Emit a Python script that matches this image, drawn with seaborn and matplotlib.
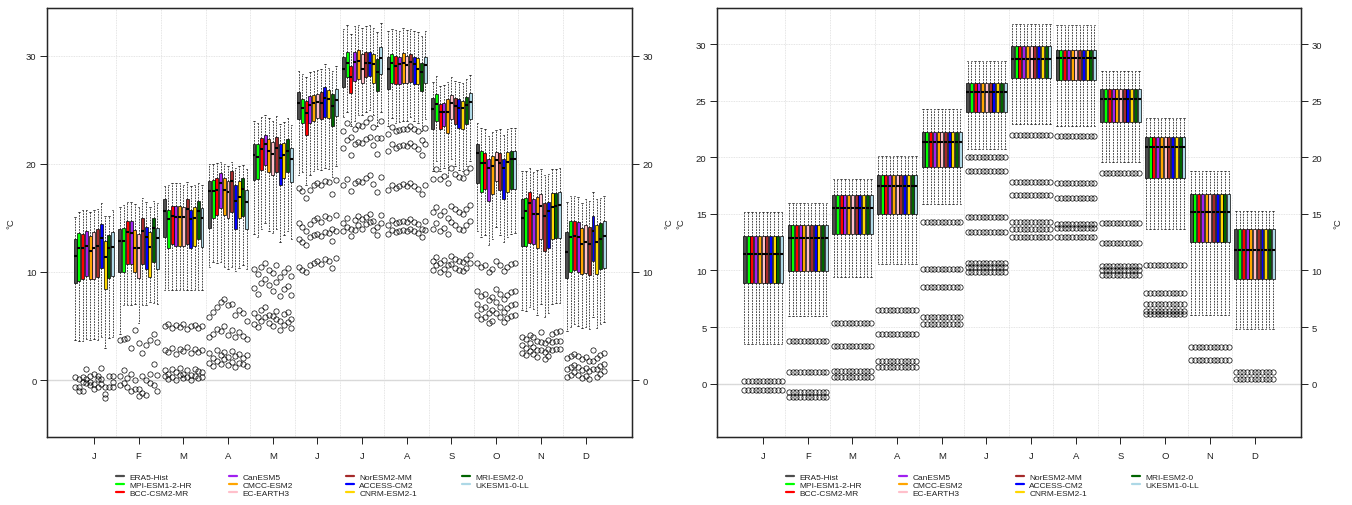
import numpy as np
import pandas as pd
import matplotlib
matplotlib.use("Agg")
import matplotlib.pyplot as plt
import seaborn as sns
from matplotlib.lines import Line2D

MONTHS = ["Jan", "Feb", "Mar", "Apr", "May", "Jun", "Jul", "Aug", "Sep", "Oct", "Nov", "Dec"]
MONTH_LABELS = ["J", "F", "M", "A", "M", "J", "J", "A", "S", "O", "N", "D"]
MODELS = ["ERA5-Hist", "MPI-ESM1-2-HR", "BCC-CSM2-MR", "CanESM5", "CMCC-ESM2", "EC-EARTH3",
          "NorESM2-MM", "ACCESS-CM2", "CNRM-ESM2-1", "MRI-ESM2-0", "UKESM1-0-LL"]
COLORS = ["#4D4D4D", "#00FF00", "#FF0000", "#A020F0", "#FFA500", "#FFC0CB",
          "#A52A2A", "#0000FF", "#FFD700", "#006400", "#ADD8E6"]

# ---------------- left panel (raw models) : rows = months, cols = models ----------------
L_Q3 = [
    [13.0, 13.6, 13.5, 13.8, 13.35, 13.65, 13.95, 14.45, 12.9, 13.4, 13.7],
    [13.95, 14.1, 14.7, 14.7, 13.9, 13.5, 14.95, 14.2, 13.65, 15.0, 14.05],
    [16.7, 15.75, 16.05, 16.05, 16.05, 16.0, 16.75, 15.75, 16.0, 16.6, 15.9],
    [18.4, 18.5, 18.65, 19.15, 18.65, 18.4, 19.3, 18.0, 18.4, 18.65, 17.6],
    [21.8, 21.8, 22.4, 22.7, 22.3, 22.0, 22.5, 21.8, 21.9, 22.3, 21.5],
    [26.6, 26.0, 25.8, 26.3, 26.4, 26.5, 26.6, 27.1, 26.8, 26.5, 26.9],
    [29.85, 30.35, 29.0, 30.35, 30.5, 30.15, 30.35, 30.35, 30.15, 29.7, 30.8],
    [29.85, 30.15, 30.0, 29.85, 30.25, 30.0, 30.15, 29.85, 29.75, 29.3, 29.85],
    [26.05, 26.45, 25.5, 25.6, 25.95, 26.4, 26.05, 25.95, 25.8, 26.2, 26.55],
    [21.8, 21.2, 21.0, 20.4, 20.75, 21.1, 21.0, 20.45, 21.05, 21.2, 21.2],
    [16.7, 16.8, 17.35, 16.7, 16.9, 17.2, 16.4, 16.5, 17.3, 17.3, 17.4],
    [13.7, 14.7, 14.7, 14.6, 14.05, 14.35, 14.2, 15.2, 14.35, 14.5, 14.7],
]
L_MED = [
    [11.45, 12.2, 12.25, 12.4, 11.95, 12.2, 12.4, 13.1, 11.35, 12.2, 12.35],
    [12.9, 12.9, 13.65, 13.6, 12.25, 12.2, 13.8, 13.2, 12.35, 14.05, 13.1],
    [15.65, 14.9, 15.2, 15.1, 15.1, 15.1, 15.8, 14.9, 15.0, 15.65, 15.0],
    [17.45, 17.45, 17.6, 18.2, 17.6, 17.4, 18.4, 16.6, 16.95, 17.7, 16.5],
    [20.8, 20.6, 21.4, 21.8, 21.2, 20.9, 21.5, 20.5, 20.8, 21.2, 20.4],
    [25.6, 25.2, 24.7, 25.4, 25.6, 25.7, 25.6, 26.1, 26.0, 25.3, 25.9],
    [28.75, 29.3, 28.0, 29.4, 29.5, 28.8, 29.3, 29.3, 29.2, 28.45, 29.75],
    [28.8, 29.3, 29.0, 29.2, 29.3, 29.1, 29.4, 29.2, 28.75, 28.45, 29.1],
    [25.1, 25.5, 24.75, 24.8, 24.75, 25.6, 25.3, 25.2, 25.15, 25.4, 25.7],
    [21.0, 20.1, 20.1, 19.6, 19.8, 20.35, 20.1, 19.6, 20.2, 20.4, 20.4],
    [15.0, 15.6, 16.4, 15.4, 15.4, 16.1, 15.2, 15.65, 16.0, 16.05, 16.2],
    [11.85, 13.25, 13.35, 13.2, 12.6, 12.75, 12.6, 13.8, 12.75, 13.0, 13.35],
]
L_Q1 = [
    [8.95, 9.2, 9.35, 9.65, 9.35, 9.35, 9.55, 10.35, 8.4, 9.4, 9.65],
    [9.95, 9.95, 10.7, 10.7, 10.0, 9.4, 10.7, 10.3, 9.5, 10.9, 10.25],
    [13.2, 12.25, 12.6, 12.4, 12.4, 12.4, 12.6, 12.25, 12.4, 13.0, 12.3],
    [14.1, 15.0, 15.25, 15.9, 15.25, 15.0, 15.5, 14.0, 15.0, 15.2, 14.0],
    [18.5, 18.6, 19.4, 19.9, 19.2, 19.0, 19.2, 18.0, 18.7, 19.2, 18.3],
    [24.1, 23.8, 22.7, 23.8, 24.0, 24.2, 24.1, 24.3, 24.2, 23.5, 24.4],
    [27.1, 28.0, 26.55, 27.7, 27.8, 27.5, 28.0, 28.15, 27.45, 26.75, 28.3],
    [26.9, 27.5, 27.4, 27.4, 27.5, 27.45, 27.6, 27.4, 27.4, 26.75, 27.5],
    [23.2, 24.0, 23.2, 23.5, 22.85, 24.1, 23.7, 23.3, 23.2, 23.7, 24.1],
    [18.2, 17.4, 17.65, 16.6, 17.2, 18.4, 17.6, 16.7, 17.35, 17.65, 17.7],
    [12.4, 12.4, 12.7, 12.6, 12.2, 13.0, 11.95, 12.25, 13.0, 13.1, 13.1],
    [9.4, 10.0, 10.2, 10.0, 9.85, 9.9, 9.75, 11.0, 9.8, 10.25, 10.4],
]
L_HI = [
    [15.05, 15.5, 15.7, 15.75, 15.5, 15.7, 15.8, 16.4, 15.2, 15.2, 15.7],
    [16.0, 16.2, 16.5, 16.5, 16.3, 16.0, 16.8, 16.5, 16.0, 16.6, 16.4],
    [17.9, 18.0, 18.2, 18.2, 18.2, 18.0, 18.3, 17.9, 18.0, 18.2, 18.0],
    [20.0, 20.0, 20.1, 20.2, 20.0, 19.8, 20.2, 19.6, 19.8, 19.9, 19.5],
    [24.0, 23.8, 24.3, 24.5, 24.2, 24.0, 24.4, 23.7, 23.9, 24.2, 23.6],
    [28.6, 28.3, 28.0, 28.5, 28.6, 28.7, 28.8, 29.2, 28.9, 28.6, 29.0],
    [32.5, 32.8, 32.0, 32.7, 32.8, 32.6, 32.7, 32.8, 32.6, 32.2, 33.0],
    [32.3, 32.5, 32.4, 32.3, 32.6, 32.4, 32.5, 32.3, 32.2, 31.8, 32.3],
    [27.6, 28.1, 27.2, 27.3, 27.6, 28.0, 27.7, 27.6, 27.5, 27.8, 28.2],
    [23.8, 23.3, 23.2, 22.6, 22.9, 23.1, 23.2, 22.7, 23.2, 23.3, 23.3],
    [19.3, 19.3, 19.6, 19.2, 19.4, 19.5, 19.0, 19.1, 19.5, 19.5, 19.6],
    [16.5, 17.0, 17.0, 16.9, 16.4, 16.7, 16.6, 17.4, 16.7, 16.8, 17.0],
]
L_LO = [
    [3.7, 3.6, 3.6, 3.8, 3.7, 3.8, 3.7, 4.0, 3.0, 3.85, 4.0],
    [4.3, 6.9, 6.9, 6.9, 7.0, 5.3, 6.9, 6.9, 7.2, 7.1, 7.0],
    [8.3, 8.3, 8.3, 8.3, 8.3, 8.3, 8.3, 8.3, 8.3, 8.3, 8.3],
    [10.5, 10.9, 10.8, 10.9, 10.5, 10.3, 10.5, 10.1, 10.4, 10.6, 10.3],
    [13.5, 13.2, 14.0, 14.5, 13.8, 13.6, 14.0, 12.8, 13.4, 13.8, 13.0],
    [19.0, 19.2, 18.0, 19.0, 19.3, 19.5, 19.4, 19.6, 19.5, 18.8, 19.8],
    [24.3, 24.8, 23.5, 24.0, 24.5, 24.5, 24.8, 25.0, 24.5, 23.5, 24.8],
    [23.5, 24.2, 23.8, 23.9, 24.0, 24.0, 24.3, 24.0, 23.8, 23.0, 24.1],
    [19.3, 20.3, 19.3, 19.6, 18.8, 20.4, 19.8, 19.4, 19.3, 19.8, 20.3],
    [13.8, 13.2, 13.4, 12.5, 13.0, 14.2, 13.4, 12.8, 13.2, 13.5, 13.6],
    [6.5, 6.4, 6.8, 6.6, 6.0, 7.0, 5.8, 6.2, 7.0, 7.1, 7.1],
    [4.5, 4.9, 5.2, 5.0, 4.8, 4.9, 4.7, 5.8, 4.8, 5.2, 5.4],
]
L_OUT = [
    [[0.25, -0.6], [0.1, -0.65, -1.0], [0.3, -0.2, -1.0], [1.0, 0.1, -0.3], [0.35, -0.2, -0.5],
     [0.6, -0.35, -0.8], [0.35, 0.1, -0.65], [1.15, 0.1, -0.4], [-0.65, -1.25, -1.7], [0.4, -0.65],
     [0.35, -0.2, -0.65]],
    [[3.7, 0.4, -0.5], [3.8, 0.9, -0.3], [3.9, 0.2, -0.6], [3.0, 0.6, -1.0], [4.6, 0.0, -0.8],
     [3.4, -0.8, -1.5], [2.5, 0.4, -1.2], [3.2, 0.0, -1.4], [3.7, 0.6, -0.3], [4.3, 1.5, -0.5],
     [3.5, 0.5, -1.0]],
    [[5.0, 2.8, 0.9, 0.4], [5.2, 2.6, 0.6, 0.1], [4.8, 3.0, 1.0, 0.3], [5.1, 2.4, 0.7, 0.0],
     [4.9, 2.9, 1.1, 0.5], [5.2, 2.7, 0.6, 0.2], [4.7, 3.1, 0.9, 0.3], [5.0, 2.5, 0.5, 0.0],
     [5.1, 2.9, 1.0, 0.4], [4.8, 2.6, 0.8, 0.2], [5.0, 2.8, 0.7, 0.3]],
    [[5.8, 4.0, 2.5, 1.6], [6.3, 4.3, 2.0, 1.3], [6.8, 4.7, 2.8, 1.8], [7.2, 4.5, 2.3, 1.5],
     [7.5, 5.0, 2.6, 1.9], [6.9, 4.2, 2.1, 1.4], [7.0, 4.6, 2.7, 1.7], [6.0, 4.0, 2.2, 1.2],
     [6.5, 4.4, 2.4, 1.6], [6.2, 4.1, 2.0, 1.5], [5.5, 3.8, 2.3, 1.3]],
    [[10.3, 8.5, 6.2, 5.2], [9.8, 8.0, 5.8, 4.9], [10.5, 9.0, 6.5, 5.5], [10.8, 9.3, 6.8, 5.8],
     [10.2, 8.8, 6.0, 5.3], [9.9, 8.2, 5.9, 5.0], [10.6, 9.1, 6.4, 5.6], [9.5, 7.8, 5.5, 4.6],
     [10.0, 8.4, 6.1, 5.1], [10.4, 8.7, 6.3, 5.4], [9.6, 7.9, 5.6, 4.8]],
    [[17.8, 14.5, 13.0, 10.5], [17.5, 14.2, 12.8, 10.2], [16.8, 13.8, 12.5, 10.0], [17.6, 14.4, 13.2, 10.6],
     [18.0, 14.8, 13.4, 10.8], [18.2, 15.0, 13.5, 11.0], [18.0, 14.6, 13.3, 10.7], [18.4, 15.2, 13.7, 11.2],
     [18.3, 15.0, 13.6, 11.0], [17.2, 14.0, 12.9, 10.4], [18.5, 15.3, 13.8, 11.3]],
    [[23.0, 21.5, 18.0, 14.5, 13.8], [23.8, 22.2, 18.6, 15.0, 14.2], [22.5, 20.8, 17.5, 14.0, 13.3],
     [23.2, 21.8, 18.2, 14.8, 13.9], [23.6, 22.0, 18.4, 15.2, 14.3], [23.5, 21.9, 18.3, 14.9, 14.0],
     [23.9, 22.3, 18.7, 15.1, 14.4], [24.2, 22.5, 19.0, 15.4, 14.6], [23.4, 21.7, 18.1, 14.7, 13.9],
     [22.4, 20.9, 17.4, 14.2, 13.4], [24.0, 22.4, 18.8, 15.3, 14.5]],
    [[22.8, 21.2, 17.6, 14.3, 13.5], [23.4, 21.8, 18.0, 14.8, 13.9], [23.0, 21.5, 17.8, 14.5, 13.7],
     [23.1, 21.6, 17.9, 14.6, 13.8], [23.2, 21.7, 18.1, 14.7, 13.9], [23.2, 21.6, 17.9, 14.6, 13.8],
     [23.5, 21.9, 18.2, 14.9, 14.0], [23.2, 21.6, 17.9, 14.6, 13.8], [23.0, 21.4, 17.7, 14.4, 13.6],
     [22.2, 20.8, 17.2, 14.0, 13.2], [23.3, 21.8, 18.0, 14.7, 13.9]],
    [[18.6, 15.5, 14.0, 11.0, 10.2], [19.5, 16.0, 14.5, 11.4, 10.6], [18.6, 15.3, 13.8, 10.8, 10.0],
     [18.9, 15.6, 14.1, 11.1, 10.3], [18.2, 15.0, 13.5, 10.6, 9.8], [19.6, 16.1, 14.6, 11.5, 10.7],
     [19.1, 15.8, 14.3, 11.2, 10.4], [18.8, 15.5, 14.0, 11.0, 10.2], [18.7, 15.4, 13.9, 10.9, 10.1],
     [19.2, 15.8, 14.3, 11.2, 10.4], [19.6, 16.2, 14.7, 11.6, 10.8]],
    [[10.8, 8.2, 7.0, 6.0], [10.5, 7.8, 6.6, 5.6], [10.6, 8.0, 6.8, 5.8], [10.0, 7.4, 6.2, 5.3],
     [10.3, 7.7, 6.5, 5.5], [11.0, 8.4, 7.2, 6.2], [10.6, 8.0, 6.8, 5.8], [10.1, 7.5, 6.3, 5.4],
     [10.5, 7.9, 6.7, 5.7], [10.7, 8.1, 6.9, 5.9], [10.8, 8.2, 7.0, 6.0]],
    [[4.0, 3.2, 2.5], [3.8, 3.0, 2.3], [4.2, 3.4, 2.7], [4.0, 3.1, 2.4], [3.6, 2.8, 2.1],
     [4.4, 3.5, 2.8], [3.4, 2.6, 1.9], [3.7, 2.9, 2.2], [4.3, 3.5, 2.8], [4.4, 3.6, 2.9],
     [4.5, 3.6, 2.9]],
    [[2.0, 1.0, 0.3], [2.2, 1.2, 0.5], [2.4, 1.4, 0.7], [2.2, 1.2, 0.5], [1.9, 0.9, 0.2],
     [2.1, 1.1, 0.4], [1.8, 0.8, 0.1], [2.8, 1.8, 1.0], [2.0, 1.0, 0.3], [2.3, 1.3, 0.6],
     [2.5, 1.5, 0.8]],
]

# ---------------- right panel (bias corrected) : one value per month ----------------
R_Q3 = [13.05, 14.05, 16.65, 18.45, 22.2, 26.6, 29.8, 29.5, 26.0, 21.8, 16.75, 13.7]
R_MED = [11.45, 12.85, 15.5, 17.45, 21.35, 25.8, 28.7, 28.75, 25.15, 20.95, 15.15, 11.85]
R_Q1 = [8.9, 9.95, 13.2, 15.0, 19.1, 24.0, 27.0, 26.8, 23.15, 18.15, 12.5, 9.25]
R_HI = [15.15, 15.95, 18.1, 20.1, 24.3, 28.5, 31.8, 31.7, 27.65, 23.5, 18.8, 15.3]
R_LO = [3.5, 6.0, 9.4, 10.6, 15.9, 20.7, 22.9, 22.75, 19.6, 13.65, 6.05, 4.8]
R_OUT = [
    [0.2, -0.6],
    [3.8, 1.0, -0.7, -1.2],
    [5.4, 3.35, 1.1, 0.6],
    [6.5, 4.4, 2.0, 1.5],
    [14.3, 10.1, 8.5, 5.85, 5.3],
    [20.0, 18.8, 14.7, 13.4, 10.7, 10.3, 9.9],
    [22.0, 17.85, 16.7, 14.3, 13.7, 13.0],
    [21.85, 17.75, 16.4, 14.1, 13.75, 12.95],
    [18.6, 14.2, 12.45, 10.4, 10.0, 9.6],
    [10.5, 8.0, 7.0, 6.4, 6.2],
    [3.2, 2.1],
    [1.0, 0.4],
]


def expand(lo, q1, med, q3, hi, outs):
    # sample whose 5/25/50/75/95 percentiles are lo/q1/med/q3/hi, plus the outliers
    return list(outs) + [lo] * 50 + [q1] * 100 + [med] * 100 + [q3] * 100 + [hi] * 50


def frame_left():
    rows = []
    for i, mon in enumerate(MONTHS):
        for j, mod in enumerate(MODELS):
            vals = expand(L_LO[i][j], L_Q1[i][j], L_MED[i][j], L_Q3[i][j], L_HI[i][j], L_OUT[i][j])
            rows.append(pd.DataFrame({"month": mon, "model": mod, "value": vals}))
    return pd.concat(rows, ignore_index=True)


def frame_right():
    rows = []
    for i, mon in enumerate(MONTHS):
        for j, mod in enumerate(MODELS):
            vals = expand(R_LO[i], R_Q1[i], R_MED[i], R_Q3[i], R_HI[i], R_OUT[i])
            rows.append(pd.DataFrame({"month": mon, "model": mod, "value": vals}))
    return pd.concat(rows, ignore_index=True)


sns.set_style("ticks")
plt.rcParams["font.family"] = ["Liberation Sans", "DejaVu Sans"]
plt.rcParams["axes.linewidth"] = 0.9

W, H = 1352, 506
fig = plt.figure(figsize=(W / 100, H / 100), dpi=100)

FS = 6.8


def draw_panel(rect, df, ylim, yticks, xlim):
    ax = fig.add_axes(rect)
    sns.boxplot(data=df, x="month", y="value", hue="model", order=MONTHS, hue_order=MODELS,
                palette=COLORS, saturation=1, width=0.92, gap=0.2, whis=(5, 95),
                linecolor="black", linewidth=0.5, fliersize=3.8, legend=False,
                flierprops=dict(marker="o", markerfacecolor="none", markeredgecolor="black",
                                markeredgewidth=0.5),
                medianprops=dict(color="black", linewidth=1.5, solid_capstyle="butt"),
                whiskerprops=dict(color="black", linewidth=0.5, linestyle=(0, (2.5, 1.5))),
                capprops=dict(color="black", linewidth=0.5),
                ax=ax)
    ax.set_xlim(*xlim)
    ax.set_ylim(*ylim)
    ax.set_xticks(range(len(MONTHS)))
    ax.set_xticklabels(MONTH_LABELS)
    ax.set_xticks(np.arange(0.5, len(MONTHS) - 1, 1.0), minor=True)
    ax.set_yticks(yticks)
    ax.set_xlabel("")
    ax.set_ylabel("°C", fontsize=FS, labelpad=7.5)
    ax.set_axisbelow(True)
    ax.grid(axis="x", which="minor", color="#dcdcdc", linestyle=(0, (1, 1)), linewidth=0.6)
    ax.grid(axis="y", which="major", color="#dcdcdc", linestyle=(0, (1, 1)), linewidth=0.6)
    ax.axhline(0, color="#d8d8d8", linewidth=1.0, zorder=0)
    ax.tick_params(axis="x", which="minor", length=0)
    ax.tick_params(axis="both", which="major", direction="out", length=5, width=0.7,
                   labelsize=FS, colors="#222222")
    ax.tick_params(axis="x", which="major", pad=5)
    ax.tick_params(axis="y", which="major", pad=2.5)
    for s in ax.spines.values():
        s.set_visible(True)
        s.set_linewidth(0.9)
        s.set_color("black")
    ax2 = ax.twinx()
    ax2.set_ylim(*ylim)
    ax2.set_yticks(yticks)
    ax2.grid(False)
    ax2.tick_params(axis="y", direction="out", length=5, width=0.7, labelsize=FS, pad=2.5,
                    colors="#222222")
    ax2.set_ylabel("°C", fontsize=FS, labelpad=8.5)
    for s in ax2.spines.values():
        s.set_linewidth(0.9)
    return ax


axL = draw_panel([47 / W, 1 - 438 / H, 585 / W, 429 / H], frame_left(), (-5.27, 34.41),
                 [0, 10, 20, 30], (-1.05, 12.04))
axR = draw_panel([717 / W, 1 - 438 / H, 584 / W, 429 / H], frame_right(), (-4.71, 33.19),
                 [0, 5, 10, 15, 20, 25, 30], (-1.03, 12.04))

handles = [Line2D([], [], color=c, linewidth=1.6) for c in COLORS]
COL_X = [116, 229, 346, 462]
for offset in (0, 670):
    for c in range(4):
        idx = list(range(3 * c, min(3 * c + 3, len(MODELS))))
        leg = fig.legend([handles[k] for k in idx], [MODELS[k] for k in idx],
                         loc="upper left", bbox_to_anchor=((COL_X[c] + offset) / W, 1 - 474.0 / H),
                         bbox_transform=fig.transFigure, frameon=False, fontsize=6.0,
                         handlelength=1.0, handletextpad=0.6, labelspacing=0.05,
                         borderpad=0, borderaxespad=0)
        for t in leg.get_texts():
            t.set_color("#222222")

fig.savefig("out.png", dpi=100)
